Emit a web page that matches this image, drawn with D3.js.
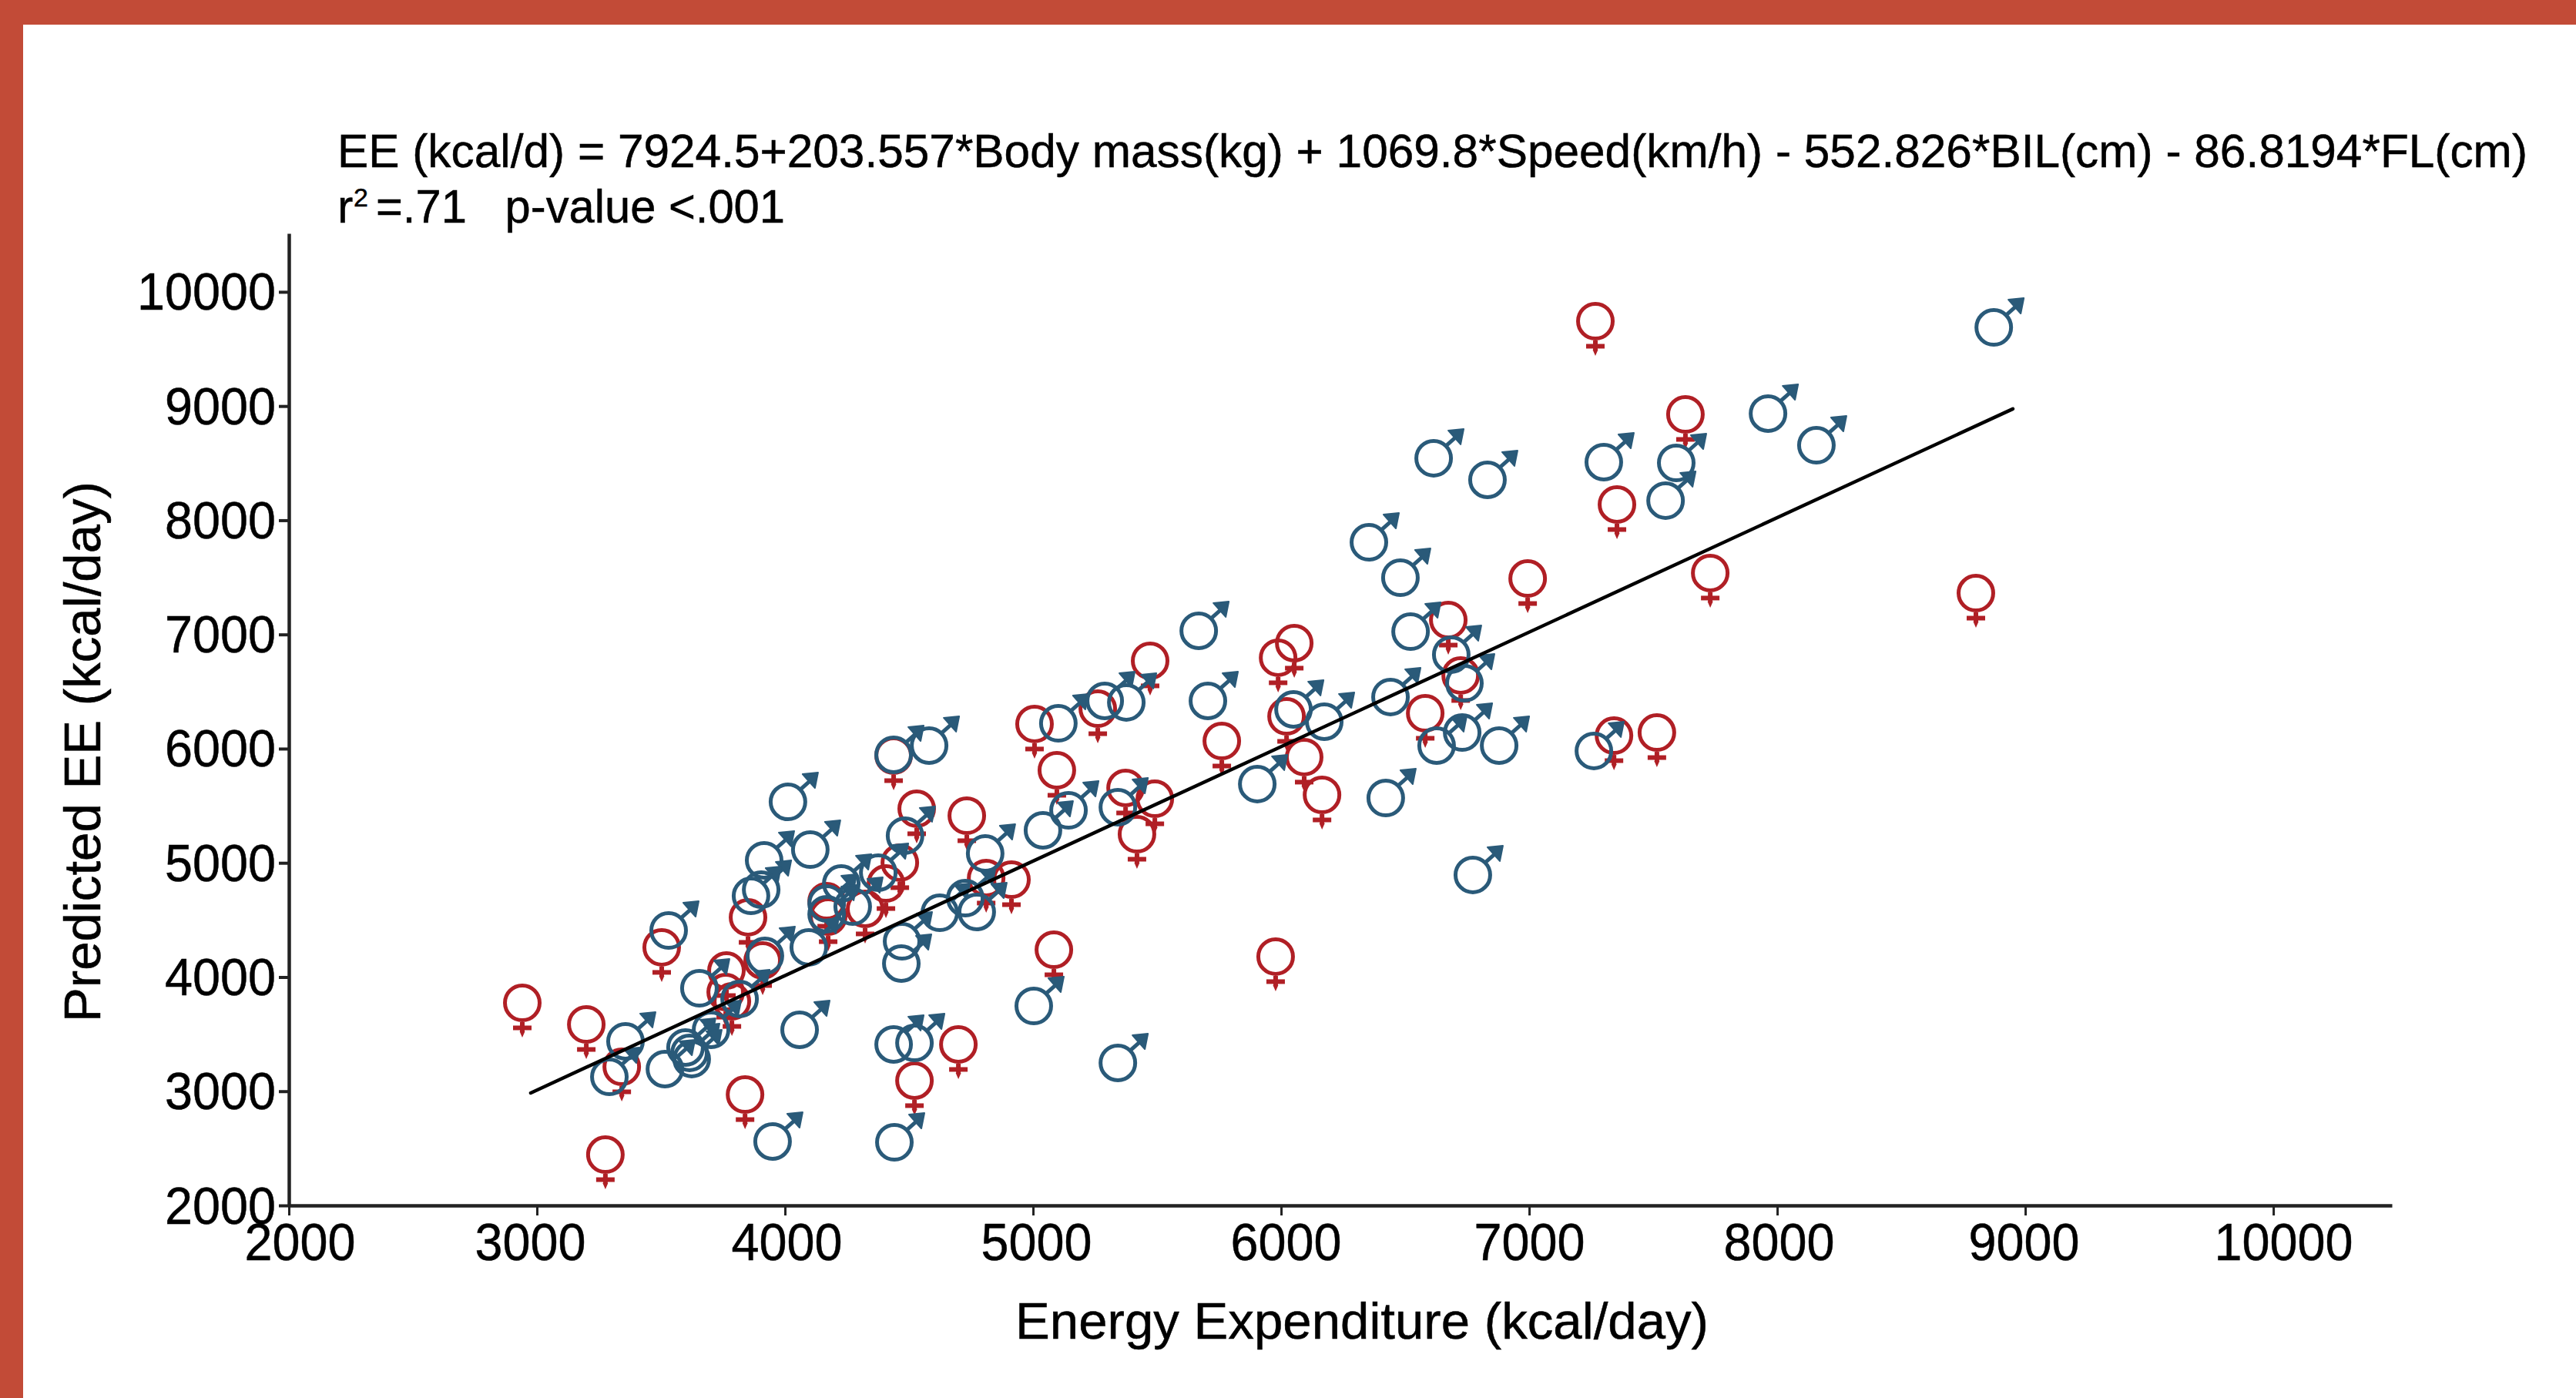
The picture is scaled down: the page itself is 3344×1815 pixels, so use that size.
<!DOCTYPE html>
<html><head><meta charset="utf-8">
<script src="https://cdn.jsdelivr.net/npm/d3@7"></script>
<style>html,body{margin:0;padding:0;background:#fff}svg{display:block}text{font-family:"Liberation Sans",Arial,sans-serif;fill:#000;stroke:#000;stroke-width:.5px}</style>
</head><body><div id="c"></div>
<script>
const maleX=[8873,7963,8158,6615,6832,7301,7593,7550,6354,6481,6522,6686,6739,6441,6174,6730,6627,6879,7261,6422,6773,6050,5705,5668,5904,5342,5102,5289,5376,5143,5040,5003,5342,4581,4438,4012,4102,3916,3904,3863,3531,4484,4376,4807,4227,4273,4168,4168,4096,4472,4469,4624,4727,4773,3919,3655,3817,3702,3357,3292,3516,3599,3615,3624,4059,4438,4522,3950,4441];
const maleY=[9689,8934,8657,8543,8354,8509,8502,8172,7807,7497,7025,6823,6573,6452,6236,6141,6027,6027,5980,5568,4894,6344,6418,7032,5690,5487,6222,6418,6405,5460,5285,3747,3248,6027,5946,5534,5116,5022,4765,4711,4408,5238,4914,5082,4819,4617,4644,4550,4260,4313,4118,4563,4691,4570,4185,3902,3808,3538,3437,3126,3194,3383,3336,3282,3538,3410,3423,2560,2553];
const femaleX=[7267,7630,7354,6994,7730,8801,6674,6724,6581,7342,7515,6053,5988,6022,6093,6165,5761,5472,5006,5261,5096,5373,5491,5419,4913,5084,5978,2941,3199,3342,3276,3503,3851,3764,3761,3910,3786,3839,4522,4699,4438,4531,4733,4463,4407,4323,4168,4174,4811];
const femaleY=[9743,8927,8138,7490,7538,7362,7126,6641,6310,6114,6141,6924,6796,6283,5926,5595,6067,6769,6216,6350,5811,5656,5561,5251,4853,4239,4179,3774,3585,3214,2445,4260,4523,4057,3868,4145,3787,2971,3093,3410,5939,5474,5413,5002,4819,4597,4664,4529,4867];
const fitX=[2975,8950];
const fitY=[2985,8975];
const tickVals=[2000,3000,4000,5000,6000,7000,8000,9000,10000];
const equation="EE (kcal/d) = 7924.5+203.557*Body mass(kg) + 1069.8*Speed(km/h) - 552.826*BIL(cm) - 86.8194*FL(cm)";
const xTitle="Energy Expenditure (kcal/day)";
const yTitle="Predicted EE (kcal/day)";

const W=3344,H=1815,frame="#c24b37",maleC="#2a5a79",femaleC="#b01f25",axisC="#222";
const svg=d3.select("#c").append("svg").attr("width",W).attr("height",H);
svg.append("rect").attr("width",W).attr("height",H).attr("fill","#fff");
svg.append("rect").attr("width",W).attr("height",32).attr("fill",frame);
svg.append("rect").attr("width",30).attr("height",H).attr("fill",frame);

const x=d3.scaleLinear().domain([2000,10478]).range([375,3105]);
const y=d3.scaleLinear().domain([2000,10512]).range([1565,303]);

const digitW=n=>n*36;
const xNudge=[14,-9,2,4,6,0,2,-2,13];
const gx=svg.append("g").attr("transform","translate(0,1565)").call(d3.axisBottom(x).tickValues(tickVals).tickFormat(d3.format("d")).tickSize(13).tickSizeOuter(0));
gx.select(".domain").attr("stroke",axisC).attr("stroke-width",4.5);
gx.selectAll(".tick line").attr("stroke",axisC).attr("stroke-width",3);
gx.selectAll(".tick text").attr("y",71).attr("dy",0).attr("x",(d,i)=>xNudge[i]).attr("font-size",69).attr("fill","#000")
  .attr("textLength",d=>digitW(String(d).length)).attr("lengthAdjust","spacingAndGlyphs");
const gy=svg.append("g").attr("transform","translate(375,0)").call(d3.axisLeft(y).tickValues(tickVals).tickFormat(d3.format("d")).tickSize(13).tickSizeOuter(0));
gy.select(".domain").attr("stroke",axisC).attr("stroke-width",4.5);
gy.selectAll(".tick line").attr("stroke",axisC).attr("stroke-width",4);
gy.selectAll(".tick text").attr("x",-17).attr("dy",0).attr("y",23).attr("font-size",69).attr("fill","#000")
  .attr("textLength",d=>digitW(String(d).length)).attr("lengthAdjust","spacingAndGlyphs");

const females=d3.zip(femaleX,femaleY), males=d3.zip(maleX,maleY);
const fg=svg.append("g").selectAll("g").data(females).join("g").attr("transform",d=>`translate(${x(d[0])},${y(d[1])})`)
  .attr("fill","none").attr("stroke",femaleC);
fg.append("circle").attr("r",22.5).attr("stroke-width",5);
fg.append("path").attr("d","M0,25V38").attr("stroke-width",6);
fg.append("path").attr("d","M-12,32.5H12").attr("stroke-width",6);
fg.append("path").attr("d","M-3.5,37H3.5L0,45Z").attr("fill",femaleC).attr("stroke","none");
const mg=svg.append("g").selectAll("g").data(males).join("g").attr("transform",d=>`translate(${x(d[0])},${y(d[1])})`)
  .attr("fill","none").attr("stroke",maleC);
mg.append("circle").attr("r",22.5).attr("stroke-width",5);
mg.append("path").attr("d","M16,-16L34,-32").attr("stroke-width",5);
mg.append("path").attr("d","M39,-38L19,-36L26,-28L35,-18Z").attr("fill",maleC).attr("stroke",maleC).attr("stroke-width",2).attr("stroke-linejoin","round");

svg.append("path").attr("d",d3.line().x(d=>x(d[0])).y(d=>y(d[1]))(d3.zip(fitX,fitY)))
  .attr("fill","none").attr("stroke","#000").attr("stroke-width",4.5).attr("stroke-linecap","round");

svg.append("text").attr("x",438).attr("y",217).attr("font-size",61).attr("textLength",2843).attr("lengthAdjust","spacingAndGlyphs").text(equation);
svg.append("text").attr("x",438).attr("y",289).attr("font-size",61).text("r");
svg.append("text").attr("x",459).attr("y",268).attr("font-size",34).text("2");
svg.append("text").attr("x",488).attr("y",289).attr("font-size",61).attr("textLength",531).attr("lengthAdjust","spacingAndGlyphs").text("=.71\u00a0\u00a0\u00a0p-value <.001");
svg.append("text").attr("x",1768).attr("y",1738).attr("font-size",66).attr("text-anchor","middle").attr("textLength",900).attr("lengthAdjust","spacingAndGlyphs").text(xTitle);
svg.append("text").attr("transform","translate(130,976) rotate(-90)").attr("font-size",66).attr("text-anchor","middle").attr("textLength",702).attr("lengthAdjust","spacingAndGlyphs").text(yTitle);
</script></body></html>
